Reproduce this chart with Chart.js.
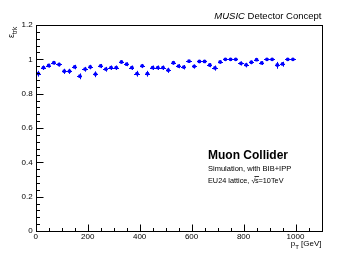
<!DOCTYPE html>
<html><head><meta charset="utf-8">
<script src="https://cdn.jsdelivr.net/npm/chart.js@4/dist/chart.umd.min.js"></script>
<style>html,body{margin:0;padding:0;background:#fff;}canvas{display:block;}</style>
</head><body>
<canvas id="c" width="357" height="257"></canvas>
<script>
// Bin centres (GeV)
const pT = [10,30,50,70,90,110,130,150,170,190,210,230,250,270,290,310,330,350,370,390,
            410,430,450,470,490,510,530,550,570,590,610,630,650,670,690,710,730,750,770,790,
            810,830,850,870,890,910,930,950,970,990];
// Tracking efficiency
const eff = [0.917,0.952,0.964,0.980,0.970,0.931,0.931,0.956,0.902,0.943,
             0.956,0.914,0.962,0.943,0.952,0.952,0.985,0.972,0.952,0.917,
             0.962,0.917,0.952,0.952,0.952,0.937,0.980,0.961,0.955,0.989,
             0.959,0.988,0.988,0.967,0.950,0.985,1.000,1.000,1.000,0.977,
             0.968,0.983,0.998,0.979,1.000,1.000,0.967,0.973,1.000,1.000];
// Asymmetric errors (low / high)
const errLo = [0.018,0.014,0.012,0.010,0.012,0.016,0.016,0.014,0.018,0.015,
               0.014,0.018,0.013,0.015,0.014,0.014,0.010,0.012,0.014,0.018,
               0.013,0.018,0.014,0.014,0.014,0.016,0.011,0.013,0.014,0.010,
               0.013,0.010,0.010,0.013,0.016,0.011,0.008,0.008,0.008,0.013,
               0.015,0.011,0.008,0.012,0.008,0.008,0.022,0.016,0.008,0.008];
const errHi = [0.016,0.012,0.010,0.008,0.010,0.014,0.014,0.012,0.016,0.013,
               0.012,0.016,0.011,0.013,0.012,0.012,0.008,0.010,0.012,0.016,
               0.011,0.016,0.012,0.012,0.012,0.014,0.009,0.011,0.012,0.007,
               0.011,0.007,0.007,0.011,0.014,0.008,0.003,0.003,0.003,0.011,
               0.012,0.009,0.003,0.010,0.003,0.003,0.018,0.013,0.003,0.003];
const binHalf = 10;
const xMajor = [0,200,400,600,800,1000];
const yMajor = [0,0.2,0.4,0.6,0.8,1.0,1.2];
const xMinorStep = 50, yMinorStep = 0.04;
const topTitleItalic = 'MUSIC', topTitleRest = ' Detector Concept';
const blockLines = ['Muon Collider','Simulation, with BIB+IPP'];

const FONT = '"Liberation Sans", Arial, Helvetica, sans-serif';

const decor = {
  id:'decor',
  beforeDatasetsDraw(chart){
    const {ctx, scales:{x,y}} = chart;
    ctx.save();
    ctx.strokeStyle = '#0000ff'; ctx.lineWidth = 1;
    pT.forEach((v,i)=>{
      const px = Math.round(x.getPixelForValue(v))+0.5;
      const py = Math.round(y.getPixelForValue(eff[i]))+0.5;
      ctx.beginPath();
      ctx.moveTo(Math.round(x.getPixelForValue(v-binHalf)), py);
      ctx.lineTo(Math.round(x.getPixelForValue(v+binHalf)), py);
      ctx.moveTo(px, y.getPixelForValue(eff[i]-errLo[i]));
      ctx.lineTo(px, y.getPixelForValue(Math.min(1,eff[i]+errHi[i])));
      ctx.stroke();
    });
    ctx.restore();
  },
  afterDraw(chart){
    const {ctx, chartArea:a, scales:{x,y}} = chart;
    ctx.save();
    ctx.strokeStyle = '#000'; ctx.lineWidth = 1;
    ctx.strokeRect(Math.round(a.left)+0.5, Math.round(a.top)+0.5, Math.round(a.right-a.left), Math.round(a.bottom-a.top));
    // x ticks (inward)
    ctx.beginPath();
    const yb = Math.round(a.bottom)+0.5;
    for(let v=0; v<=x.max+1e-9; v+=xMinorStep){
      const px = Math.round(x.getPixelForValue(v))+0.5;
      const L = xMajor.includes(v) ? 7 : 3.5;
      ctx.moveTo(px, yb); ctx.lineTo(px, yb-L);
    }
    const xl = Math.round(a.left)+0.5;
    for(let k=0; k<=30; k++){
      const v = k*yMinorStep;
      const py = Math.round(y.getPixelForValue(v))+0.5;
      const L = (k%5===0) ? 7 : 3.5;
      ctx.moveTo(xl, py); ctx.lineTo(xl+L, py);
    }
    ctx.stroke();
    ctx.fillStyle = '#000';
    // top title
    ctx.textBaseline = 'alphabetic';
    ctx.font = '9.5px '+FONT;
    const wRest = ctx.measureText(topTitleRest).width;
    ctx.font = 'italic 9.5px '+FONT;
    const wIt = ctx.measureText(topTitleItalic).width;
    const rx = a.right;
    ctx.fillText(topTitleItalic, rx - wRest - wIt, 19);
    ctx.font = '9.5px '+FONT;
    ctx.fillText(topTitleRest, rx - wRest, 19);
    // x axis title p_T [GeV]
    ctx.font = '8px '+FONT;
    const wG = ctx.measureText(' [GeV]').width;
    ctx.font = '6px '+FONT;
    const wT = ctx.measureText('T').width;
    ctx.font = '8px '+FONT;
    const wp = ctx.measureText('p').width;
    let sx = rx - wG - wT - wp;
    ctx.fillText('p', sx, 246);
    ctx.font = '6px '+FONT;
    ctx.fillText('T', sx+wp, 248.5);
    ctx.font = '8px '+FONT;
    ctx.fillText(' [GeV]', sx+wp+wT, 246);
    // y axis title epsilon_trk
    ctx.save();
    ctx.translate(14, 38);
    ctx.rotate(-Math.PI/2);
    ctx.font = '9px '+FONT;
    ctx.fillText('\u03b5', 0, 0);
    const we = ctx.measureText('\u03b5').width;
    ctx.font = '6.5px '+FONT;
    ctx.fillText('trk', we, 2.5);
    ctx.restore();
    // text block
    ctx.font = 'bold 12px '+FONT;
    ctx.fillText(blockLines[0], 208, 159);
    ctx.font = '7.5px '+FONT;
    ctx.fillText(blockLines[1], 208, 171);
    ctx.font = '7.3px '+FONT;
    let tx = 208;
    const p1 = 'EU24 lattice, ';
    ctx.fillText(p1, tx, 183); tx += ctx.measureText(p1).width;
    ctx.fillText('\u221a', tx, 183); tx += ctx.measureText('\u221a').width - 0.5;
    const ws = ctx.measureText('s').width;
    ctx.fillText('s', tx, 183);
    ctx.beginPath(); ctx.lineWidth = 0.8;
    ctx.moveTo(tx-0.5, 176.5); ctx.lineTo(tx+ws+0.5, 176.5); ctx.stroke();
    tx += ws;
    ctx.fillText('=10TeV', tx, 183);
    ctx.restore();
  }
};

new Chart(document.getElementById('c'), {
  type:'scatter',
  data:{ datasets:[{
    data: pT.map((v,i)=>({x:v, y:eff[i]})),
    backgroundColor:'#0000ff', borderColor:'#0000ff',
    pointRadius:1.9, pointBorderWidth:0, pointStyle:'circle'
  }]},
  options:{
    responsive:false, animation:false, devicePixelRatio:1,
    layout:{padding:{left:0, top:25, right:35.5, bottom:0}},
    plugins:{legend:{display:false}, tooltip:{enabled:false}},
    scales:{
      x:{type:'linear', min:0, max:1100,
         afterBuildTicks:s=>{s.ticks = xMajor.map(v=>({value:v}));},
         afterFit:s=>{s.height = 26;},
         grid:{display:false, drawTicks:false}, border:{display:false},
         ticks:{color:'#000', font:{family:FONT, size:8}, padding:1, maxRotation:0, autoSkip:false,
                callback:v=>String(v)}},
      y:{type:'linear', min:0, max:1.2,
         afterBuildTicks:s=>{s.ticks = yMajor.map(v=>({value:v}));},
         afterFit:s=>{s.width = 35.7;},
         grid:{display:false, drawTicks:false}, border:{display:false},
         ticks:{color:'#000', font:{family:FONT, size:8}, padding:3, autoSkip:false,
                callback:v=>String(+(+v).toFixed(1))}}
    }
  },
  plugins:[decor]
});
</script>
</body></html>
